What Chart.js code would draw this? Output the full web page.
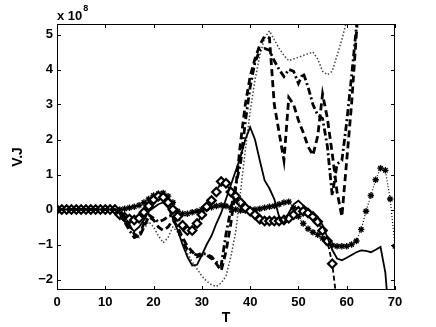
<!DOCTYPE html>
<html><head><meta charset="utf-8">
<script src="https://cdn.jsdelivr.net/npm/chart.js@4.4.1/dist/chart.umd.min.js"></script>
<style>html,body{margin:0;padding:0;background:#fff}#wrap{width:436px;height:327px}</style>
</head><body><div id="wrap"><canvas id="c" width="436" height="327"></canvas></div>
<script>
// categories (T)
const T = [0,1,2,3,4,5,6,7,8,9,10,11,12,13,14,15,16,17,18,19,20,21,22,23,24,25,26,27,28,29,30,31,32,33,34,35,36,37,38,39,40,41,42,43,44,45,46,47,48,49,50,51,52,53,54,55,56,57,58,59,60,61,62,63,64,65,66,67,68,69,70];
// series values (x 1e8)
const solid = [0,0,0,0,0,0,0,0,0,0,0,0,-0.02,-0.1,-0.3,-0.5,-0.62,-0.5,-0.3,-0.05,0.05,0.15,0.2,0.05,-0.25,-0.6,-1.0,-1.35,-1.6,-1.58,-1.3,-1.0,-0.75,-0.4,-0.1,0.3,0.7,1.1,1.5,2.0,2.35,2.0,1.4,0.83,0.6,0.3,-0.2,-0.4,-0.1,0.15,0.25,0.12,0.0,-0.12,-0.22,-0.45,-0.8,-1.15,-1.4,-1.45,-1.38,-1.3,-1.22,-1.17,-1.18,-1.22,-1.15,-1.07,-1.8,-3.5,null];
const dashed = [0,0,0,0,0,0,0,0,0,0,0,0,0,-0.05,-0.2,-0.45,-0.7,-0.8,-0.5,-0.2,-0.3,-0.5,-0.6,-0.5,-0.3,-0.5,-0.8,-1.05,-1.2,-1.35,-1.3,-1.3,-1.4,-1.55,-1.75,-1.2,-0.4,0.6,1.9,3.0,3.8,4.3,4.7,4.95,4.9,3.0,2.2,1.4,3.2,3.0,2.55,2.2,1.8,1.55,2.1,3.3,2.6,1.6,0.5,-0.2,1.4,3.0,5.0,7.0,null,null,null,null,null,null,null];
const dashDot = [0,0,0,0,0,0,0,0,0,0,0,0,0,-0.1,-0.35,-0.6,-0.8,-0.75,-0.4,-0.15,-0.25,-0.35,-0.3,-0.2,-0.15,-0.55,-0.9,-1.15,-1.25,-1.3,-1.25,-1.28,-1.35,-1.5,-1.6,-0.7,0.0,0.7,1.3,2.5,3.5,4.2,4.55,4.6,4.55,4.25,4.0,3.8,4.0,3.95,3.6,3.9,3.5,3.0,2.7,2.6,1.8,0.4,1.3,1.4,2.5,3.8,5.2,7.0,null,null,null,null,null,null,null];
const dotted = [0,0,0,0,0,0,0,0,0,0,0,0,0,-0.05,-0.2,-0.45,-0.65,-0.8,-0.55,-0.35,-0.5,-0.75,-0.95,-0.8,-0.5,-0.65,-0.95,-1.25,-1.5,-1.7,-1.9,-2.05,-2.15,-2.2,-2.1,-1.9,-1.35,-0.65,0.5,1.7,2.8,3.7,4.4,4.9,5.1,4.85,4.6,4.4,4.25,4.3,4.35,4.4,4.45,4.5,4.3,3.95,3.85,3.95,4.4,4.85,5.4,6.0,null,null,null,null,null,null,null,null,null];
const diamonds = [0,0,0,0,0,0,0,0,0,0,0,0,0,-0.15,-0.22,-0.27,-0.3,-0.25,-0.08,0.1,0.28,0.38,0.35,0.2,0.0,-0.2,-0.45,-0.6,-0.6,-0.4,-0.15,0.08,0.26,0.5,0.8,0.75,0.5,0.38,0.2,0.05,-0.05,-0.15,-0.28,-0.33,-0.33,-0.33,-0.33,-0.3,-0.25,-0.15,-0.05,-0.05,-0.1,-0.2,-0.35,-0.6,-0.9,-1.55,-2.7,null,null,null,null,null,null,null,null,null,null,null,null];
const crosses = [0,0,0,0,0,0,0,0,0,0,0,0,0,0.0,0.02,0.05,0.08,0.12,0.2,0.3,0.4,0.45,0.47,0.38,0.2,-0.05,-0.12,-0.12,-0.08,-0.05,0.0,0.03,0.06,0.1,0.12,0.1,0.05,0.0,-0.03,-0.03,-0.02,0.0,0.02,0.05,0.08,0.1,0.15,0.2,0.22,0.05,-0.2,-0.4,-0.55,-0.65,-0.72,-0.82,-0.95,-1.02,-1.05,-1.05,-1.05,-1.0,-0.9,-0.57,-0.05,0.4,0.85,1.18,1.12,0.3,-1.05];
// tick labels
const xTicks = [0,10,20,30,40,50,60,70];
const yTicks = [-2,-1,0,1,2,3,4,5];

const pts = arr => T.map((t,i)=>({x:t,y:arr[i]}));
const F = {family:'"Liberation Sans", Arial, Helvetica, sans-serif', size:13, weight:'bold'};

const boxPlugin = {
  id:'box',
  afterDatasetsDraw(chart){
    const {ctx, chartArea:a, scales:{x,y}} = chart;
    ctx.save();
    ctx.strokeStyle='#000'; ctx.lineWidth=1;
    ctx.strokeRect(a.left+0.5, a.top+0.5, a.right-a.left-1, a.bottom-a.top-1);
    ctx.beginPath();
    xTicks.forEach(v=>{const px=Math.round(x.getPixelForValue(v))+0.5;
      ctx.moveTo(px,a.bottom); ctx.lineTo(px,a.bottom-4);
      ctx.moveTo(px,a.top); ctx.lineTo(px,a.top+4);});
    yTicks.forEach(v=>{const py=Math.round(y.getPixelForValue(v))+0.5;
      ctx.moveTo(a.left,py); ctx.lineTo(a.left+4,py);
      ctx.moveTo(a.right,py); ctx.lineTo(a.right-4,py);});
    ctx.stroke();
    ctx.fillStyle='#000';
    ctx.textBaseline='alphabetic'; ctx.textAlign='left';
    ctx.font='bold 13px "Liberation Sans", Arial, sans-serif';
    ctx.fillText('x 10', a.left, 20);
    const w = ctx.measureText('x 10').width;
    ctx.font='bold 9px "Liberation Sans", Arial, sans-serif';
    ctx.fillText('8', a.left+w+1, 11);
    ctx.restore();
  }
};

new Chart(document.getElementById('c'), {
  type:'line',
  data:{datasets:[
    {data:pts(solid), borderColor:'#000', borderWidth:1.8, pointRadius:0},
    {data:pts(dashed), borderColor:'#000', borderWidth:2.8, borderDash:[7,4], pointRadius:0},
    {data:pts(dashDot), borderColor:'#000', borderWidth:2.8, borderDash:[7,3,2,3], pointRadius:0},
    {data:pts(dotted), borderColor:'#444', borderWidth:1.5, borderDash:[1.5,2], pointRadius:0},
    {data:pts(diamonds), borderColor:'#000', borderWidth:1.8, borderDash:[5,3], pointStyle:'rectRot', pointRadius:4.2, pointBorderWidth:2.2, pointBackgroundColor:'#fff', pointBorderColor:'#000'},
    {data:pts(crosses), borderColor:'#000', borderWidth:1.2, borderDash:[1,2], pointStyle:'star', pointRadius:3.2, pointBorderWidth:1.3, pointBorderColor:'#000', pointBackgroundColor:'#000'}
  ]},
  options:{
    responsive:false, animation:false, devicePixelRatio:1,
    layout:{padding:{left:4, right:41, top:24, bottom:0}},
    plugins:{legend:{display:false}, tooltip:{enabled:false}},
    scales:{
      x:{type:'linear', min:0, max:70,
        afterBuildTicks(s){ s.ticks = xTicks.map(v=>({value:v})); },
        afterFit(s){ s.height = 37; },
        ticks:{font:F, color:'#000', padding:5, maxRotation:0, autoSkip:false},
        grid:{display:false, drawTicks:false}, border:{display:false},
        title:{display:true, text:'T', font:{...F, size:14}, color:'#000', padding:{top:0,bottom:0}}},
      y:{type:'linear', min:-2.3, max:5.3,
        afterBuildTicks(s){ s.ticks = yTicks.map(v=>({value:v})); },
        afterFit(s){ s.width = 53; },
        ticks:{font:F, color:'#000', padding:4, autoSkip:false, callback:v=> (v<0?'\u2212'+Math.abs(v):String(v))},
        grid:{display:false, drawTicks:false}, border:{display:false},
        title:{display:true, text:'V.J', font:{...F, size:14}, color:'#000', padding:{top:6,bottom:0}}}
    }
  },
  plugins:[boxPlugin]
});
</script></body></html>
